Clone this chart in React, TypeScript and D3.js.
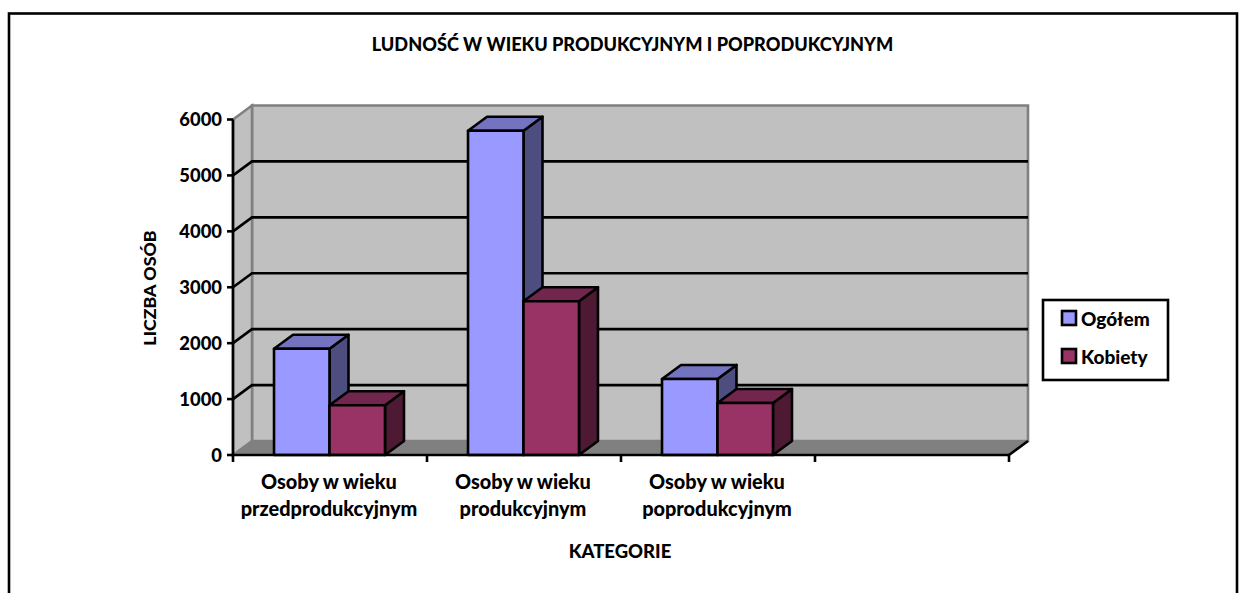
import React from "react";
import * as d3 from "d3";

const categories = [
  ["Osoby w wieku", "przedprodukcyjnym"],
  ["Osoby w wieku", "produkcyjnym"],
  ["Osoby w wieku", "poprodukcyjnym"],
  ["", ""],
];
const seriesNames = ["Ogółem", "Kobiety"];
const ogolem = [1900, 5800, 1360];
const kobiety = [890, 2750, 930];
const yTicks = [0, 1000, 2000, 3000, 4000, 5000, 6000];
const colors = [
  { front: "#9999FF", top: "#7373BF", side: "#4D4D80" },
  { front: "#993366", top: "#73264D", side: "#4D1933" },
];

const W = 1244, H = 593;
const x0 = 233, x1 = 1009, y0 = 455, y1 = 119.5;
const dx = 19, dy = -14;
const FONT = "Lato, 'Open Sans', sans-serif";
const SW = 2.6;

export default function App() {
  const y = d3.scaleLinear().domain([0, 6000]).range([y0, y1]);
  const x = d3.scaleBand<number>().domain(d3.range(categories.length)).range([x0, x1]);
  const bw = x.bandwidth();
  const barW = bw * 0.286;
  const pad = (bw - 2 * barW) / 2 - 0.5;
  const series = [ogolem, kobiety];
  const poly = (pts: [number, number][]) => pts.map((p) => p.join(",")).join(" ");
  const text = { fontFamily: FONT, fontWeight: 900, fill: "#000" } as const;

  return (
    <svg width={W} height={H} style={{ position: "absolute", left: 0, top: 0, background: "#fff" }}>
      <rect x={9} y={13.5} width={1228} height={H + 10} fill="#fff" stroke="#000" strokeWidth={SW} />
      <text x={632.5} y={51} textAnchor="middle" fontSize={18.15} {...text}>
        LUDNOŚĆ W WIEKU PRODUKCYJNYM I POPRODUKCYJNYM
      </text>

      {/* walls */}
      <polygon points={poly([[x0 + dx, y1 + dy], [x1 + dx, y1 + dy], [x1 + dx, y0 + dy], [x0 + dx, y0 + dy]])} fill="#C0C0C0" stroke="#808080" strokeWidth={SW} />
      <polygon points={poly([[x0, y1], [x0 + dx, y1 + dy], [x0 + dx, y0 + dy], [x0, y0]])} fill="#C0C0C0" stroke="#808080" strokeWidth={SW} />
      <polygon points={poly([[x0, y0], [x0 + dx, y0 + dy], [x1 + dx, y0 + dy], [x1, y0]])} fill="#808080" stroke="#808080" strokeWidth={1} />
      <line x1={x1} y1={y0} x2={x1 + dx} y2={y0 + dy} stroke="#000" strokeWidth={SW} />

      {/* gridlines */}
      {yTicks.slice(1, -1).map((t) => (
        <polyline key={t} points={poly([[x0, y(t)], [x0 + dx, y(t) + dy], [x1 + dx, y(t) + dy]])} fill="none" stroke="#000" strokeWidth={SW} />
      ))}

      {/* bars */}
      {d3.range(3).map((i) =>
        series.map((s, k) => {
          const bx = x(i)! + pad + k * barW;
          const ty = y(s[i]);
          const c = colors[k];
          return (
            <g key={`${i}-${k}`} stroke="#000" strokeWidth={SW} strokeLinejoin="round">
              <polygon points={poly([[bx + barW, ty], [bx + barW + dx, ty + dy], [bx + barW + dx, y0 + dy], [bx + barW, y0]])} fill={c.side} />
              <polygon points={poly([[bx, ty], [bx + dx, ty + dy], [bx + barW + dx, ty + dy], [bx + barW, ty]])} fill={c.top} />
              <rect x={bx} y={ty} width={barW} height={y0 - ty} fill={c.front} />
            </g>
          );
        })
      )}

      {/* axes */}
      <line x1={x0} y1={y1} x2={x0} y2={y0} stroke="#000" strokeWidth={SW} />
      <line x1={x0 - 1} y1={y0} x2={x1} y2={y0} stroke="#000" strokeWidth={SW} />
      {yTicks.map((t) => (
        <g key={t}>
          <line x1={x0 - 6} y1={y(t)} x2={x0} y2={y(t)} stroke="#000" strokeWidth={SW} />
          <text x={x0 - 11} y={y(t) + 6.5} textAnchor="end" fontSize={18.4} {...text}>{t}</text>
        </g>
      ))}
      {d3.range(categories.length + 1).map((i) => {
        const px = x0 + i * bw;
        return <line key={i} x1={px} y1={y0} x2={px} y2={y0 + 7} stroke="#000" strokeWidth={SW} />;
      })}
      {categories.map((c, i) => (
        <text key={i} textAnchor="middle" fontSize={19.9} {...text}>
          <tspan x={x(i)! + bw / 2 - 1} y={489}>{c[0]}</tspan>
          <tspan x={x(i)! + bw / 2 - 1} y={516}>{c[1]}</tspan>
        </text>
      ))}

      <text x={620} y={558} textAnchor="middle" fontSize={18.5} {...text}>KATEGORIE</text>
      <text transform="translate(156,288) rotate(-90)" textAnchor="middle" fontSize={17.8} {...text}>LICZBA OSÓB</text>

      {/* legend */}
      <rect x={1043} y={300} width={125} height={80} fill="#fff" stroke="#000" strokeWidth={SW} />
      {seriesNames.map((n, k) => (
        <g key={n}>
          <rect x={1062} y={311 + k * 38} width={14} height={14} fill={colors[k].front} stroke="#000" strokeWidth={SW} />
          <text x={1081} y={326 + k * 38} fontSize={19} {...text}>{n}</text>
        </g>
      ))}
    </svg>
  );
}
